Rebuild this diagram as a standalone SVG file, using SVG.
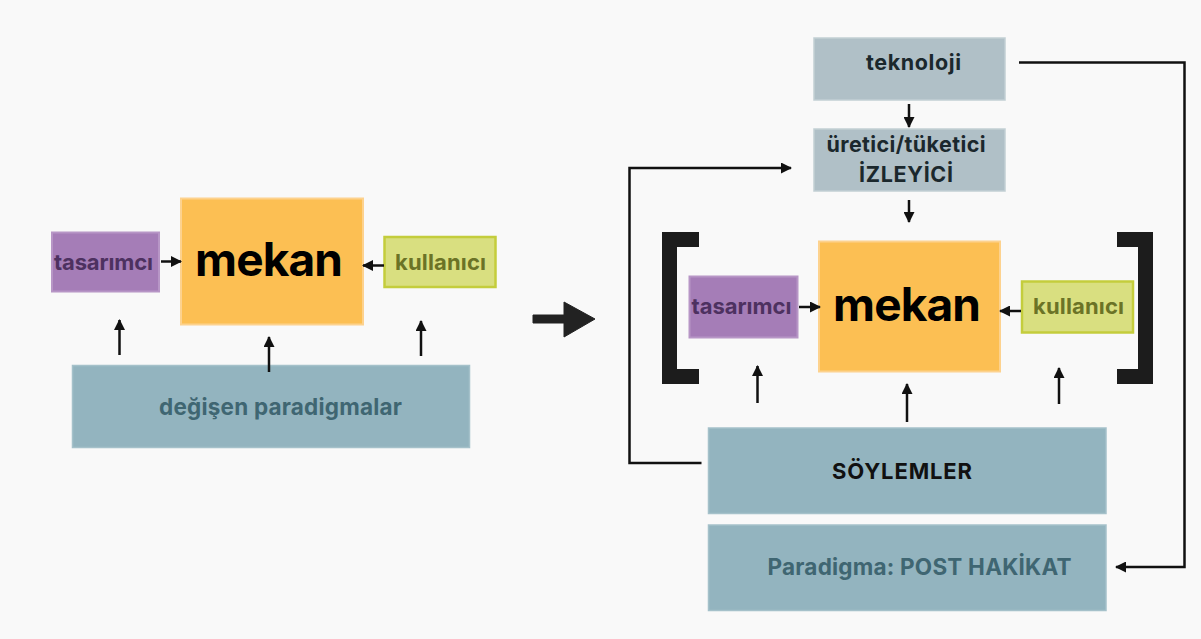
<svg xmlns="http://www.w3.org/2000/svg" width="1201" height="639" viewBox="0 0 1201 639">
  <style>
    text { font-family: Inter, "Liberation Sans", sans-serif; font-weight: 700; text-anchor: middle; }
    .purple { fill: #a57db7; stroke: #b796c6; stroke-width: 2; }
    .orange { fill: #fcbf53; stroke: #fdd28e; stroke-width: 2; }
    .lime { fill: #d9df80; stroke: #c4cd3c; stroke-width: 2.5; }
    .steel { fill: #93b4bf; stroke: #a5c1ca; stroke-width: 1.5; }
    .grey { fill: #b0c0c7; stroke: #c2cfd4; stroke-width: 1.5; }
    .t-purple { fill: #4d3160; font-size: 22px; }
    .t-lime { fill: #6b7326; font-size: 22px; }
    .t-big { fill: #000; font-size: 46px; }
    .t-steel { fill: #3f6672; font-size: 22.5px; }
    .t-dark { fill: #1b282d; font-size: 21.5px; }
    .t-black { fill: #111; font-size: 22px; }
    .conn { fill: none; stroke: #111; stroke-width: 2.5; marker-end: url(#head); }
    .bracket { fill: none; stroke: #1c1c1c; stroke-width: 15; }
  </style>
  <defs>
    <marker id="head" markerUnits="userSpaceOnUse" markerWidth="11" markerHeight="11" refX="10" refY="5.5" orient="auto">
      <path d="M0,0 L11,5.5 L0,11 Z" fill="#111"/>
    </marker>
  </defs>

  <rect width="1201" height="639" fill="#f9f9f9"/>

  <!-- left: simple model -->
  <g id="l-tasarimci">
    <rect class="purple" x="52" y="232.5" width="107" height="59"/>
    <text class="t-purple" x="103.5" y="270" textLength="99" lengthAdjust="spacing">tasarımcı</text>
  </g>
  <g id="l-mekan">
    <rect class="orange" x="181" y="198.5" width="182" height="126"/>
    <text class="t-big" x="269" y="276" textLength="148" lengthAdjust="spacing">mekan</text>
  </g>
  <g id="l-kullanici">
    <rect class="lime" x="384.5" y="237" width="111" height="50"/>
    <text class="t-lime" x="440.5" y="270" textLength="91" lengthAdjust="spacing">kullanıcı</text>
  </g>
  <g id="l-paradigmalar">
    <rect class="steel" x="72.5" y="365.5" width="397" height="82"/>
    <text class="t-steel" x="280.5" y="415" textLength="243" lengthAdjust="spacing">değişen paradigmalar</text>
  </g>

  <!-- transition arrow -->
  <g id="transition">
    <path d="M533,315 H564 V302 L595,319 L564,337 V323 H533 Z" fill="#222" stroke="#222" stroke-width="1" stroke-linejoin="round"/>
  </g>

  <!-- right: extended model -->
  <g id="r-teknoloji">
    <rect class="grey" x="814" y="38" width="191" height="62"/>
    <text class="t-dark" x="913.5" y="70" textLength="95" lengthAdjust="spacing">teknoloji</text>
  </g>
  <g id="r-izleyici">
    <rect class="grey" x="814" y="129" width="191" height="62"/>
    <text class="t-dark" x="906" y="152" textLength="159" lengthAdjust="spacing">üretici/tüketici</text>
    <text class="t-dark" x="906" y="182" textLength="94" lengthAdjust="spacing">İZLEYİCİ</text>
  </g>
  <g id="r-tasarimci">
    <rect class="purple" x="689.5" y="276.5" width="108" height="61"/>
    <text class="t-purple" x="741.5" y="314" textLength="100" lengthAdjust="spacing">tasarımcı</text>
  </g>
  <g id="r-mekan">
    <rect class="orange" x="819" y="241.5" width="181" height="130"/>
    <text class="t-big" x="907" y="321" textLength="148" lengthAdjust="spacing">mekan</text>
  </g>
  <g id="r-kullanici">
    <rect class="lime" x="1022" y="281.5" width="111" height="51"/>
    <text class="t-lime" x="1078.5" y="314" textLength="91" lengthAdjust="spacing">kullanıcı</text>
  </g>
  <g id="r-soylemler">
    <rect class="steel" x="708.5" y="428" width="397.5" height="85.5"/>
    <text class="t-black" x="902" y="479" textLength="140" lengthAdjust="spacing">SÖYLEMLER</text>
  </g>
  <g id="r-paradigma">
    <rect class="steel" x="708.5" y="525" width="397.5" height="85.5"/>
    <text class="t-steel" x="919.5" y="575" textLength="304" lengthAdjust="spacing">Paradigma: POST HAKİKAT</text>
  </g>
  <g id="r-brackets">
    <path class="bracket" d="M699,239.5 H669.5 V376.5 H699"/>
    <path class="bracket" d="M1117,239.5 H1145.5 V376.5 H1117"/>
  </g>

  <!-- connectors -->
  <g id="connectors">
    <line class="conn" x1="161" y1="261.5" x2="181" y2="261.5"/>
    <line class="conn" x1="384" y1="265.5" x2="363" y2="265.5"/>
    <line class="conn" x1="119.5" y1="355" x2="119.5" y2="320"/>
    <line class="conn" x1="269" y1="372" x2="269" y2="337"/>
    <line class="conn" x1="421" y1="356" x2="421" y2="321"/>

    <line class="conn" x1="909" y1="104" x2="909" y2="127"/>
    <line class="conn" x1="909" y1="200" x2="909" y2="222"/>
    <line class="conn" x1="799" y1="307" x2="820" y2="307"/>
    <line class="conn" x1="1021" y1="311" x2="1000" y2="311"/>
    <line class="conn" x1="757.5" y1="403" x2="757.5" y2="366"/>
    <line class="conn" x1="907" y1="422" x2="907" y2="384"/>
    <line class="conn" x1="1059" y1="404" x2="1059" y2="368"/>

    <polyline class="conn" points="1019,62.5 1184.5,62.5 1184.5,567 1116,567"/>
    <polyline class="conn" points="701.5,463 629.5,463 629.5,168 791,168"/>
  </g>
</svg>
